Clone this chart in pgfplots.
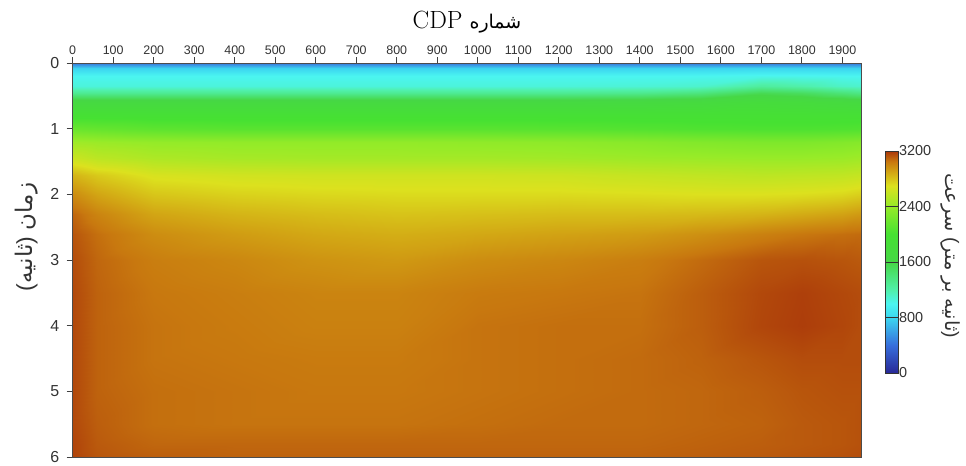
\documentclass[border=0pt]{standalone}
\usepackage{pgfplots}
\pgfplotsset{compat=1.18}
\usetikzlibrary{calc}
\usepackage{fontspec}
\newfontfamily\sansf{Liberation Sans}
\newfontfamily\arabicfont[Script=Arabic]{DejaVu Sans}
\TeXXeTstate=1
\pgfplotsset{colormap={vel}{rgb255(0pt)=(40,40,150); rgb255(400pt)=(55,110,220); rgb255(800pt)=(60,215,240); rgb255(1000pt)=(75,245,240); rgb255(1200pt)=(80,240,170); rgb255(1600pt)=(70,215,70); rgb255(2000pt)=(70,225,50); rgb255(2400pt)=(150,235,40); rgb255(2700pt)=(220,225,30); rgb255(2900pt)=(210,165,20); rgb255(3050pt)=(200,120,15); rgb255(3200pt)=(170,55,10)}}
\begin{document}
\begin{tikzpicture}
\begin{axis}[
  at={(72.7bp,2bp)}, anchor=south west,
  scale only axis, width=788.3bp, height=394bp,
  xmin=0, xmax=1946, ymin=0, ymax=6, y dir=reverse,
  axis on top,
  colormap name=vel, point meta min=0, point meta max=3200,
  xtick={0,100,...,1900}, ytick={0,1,...,6},
  xtick pos=upper, xticklabel pos=upper, ytick pos=lower,
  tick align=outside, major tick length=6bp,
  scaled x ticks=false, scaled y ticks=false,
  /pgf/number format/1000 sep={},
  /pgf/number format/assume math mode=true,
  xticklabel style={font=\sansf\fontsize{12.5}{12.5}\selectfont, text=black!80, yshift=-1bp},
  yticklabel style={font=\sansf\fontsize{16}{16}\selectfont, text=black!80, xshift=-4bp},
  axis line style={draw=black!70, line width=0.9bp},
  every tick/.style={draw=black!75, line width=0.9bp},
  colorbar,
  colorbar style={
    at={($(parent axis.north east)+(15.7bp,-88bp)$)}, anchor=north west,
    scale only axis, width=13.3bp, height=222bp,
    ytick={0,800,1600,2400,3200},
    scaled y ticks=false,
    /pgf/number format/1000 sep={},
    /pgf/number format/assume math mode=true,
    yticklabel pos=right,
    yticklabel style={font=\sansf\fontsize{14.5}{14.5}\selectfont, text=black!80, xshift=-3bp},
    tick align=inside, major tick length=13.3bp,
    axis line style={draw=black!80, line width=0.8bp},
    every tick/.style={draw=black!80, line width=0.8bp},
  },
]
\addplot[surf, shader=interp, mesh/cols=14, point meta=explicit] coordinates {
(0,0)[430] (60,0)[430] (200,0)[430] (400,0)[430] (600,0)[430] (800,0)[430] (1000,0)[430] (1200,0)[430] (1400,0)[430] (1550,0)[430] (1700,0)[430] (1800,0)[430] (1900,0)[430] (1946,0)[430]
(0,0.08)[780] (60,0.08)[780] (200,0.08)[780] (400,0.08)[780] (600,0.08)[780] (800,0.08)[780] (1000,0.08)[780] (1200,0.08)[780] (1400,0.08)[780] (1550,0.08)[780] (1700,0.08)[790] (1800,0.08)[785] (1900,0.08)[780] (1946,0.08)[780]
(0,0.2)[1000] (60,0.2)[1000] (200,0.2)[1000] (400,0.2)[1000] (600,0.2)[1000] (800,0.2)[1000] (1000,0.2)[1000] (1200,0.2)[1000] (1400,0.2)[1000] (1550,0.2)[1005] (1700,0.2)[1020] (1800,0.2)[1015] (1900,0.2)[1005] (1946,0.2)[1000]
(0,0.35)[1060] (60,0.35)[1060] (200,0.35)[1060] (400,0.35)[1060] (600,0.35)[1060] (800,0.35)[1060] (1000,0.35)[1060] (1200,0.35)[1065] (1400,0.35)[1075] (1550,0.35)[1100] (1700,0.35)[1250] (1800,0.35)[1200] (1900,0.35)[1120] (1946,0.35)[1100]
(0,0.45)[1300] (60,0.45)[1300] (200,0.45)[1300] (400,0.45)[1300] (600,0.45)[1300] (800,0.45)[1300] (1000,0.45)[1300] (1200,0.45)[1300] (1400,0.45)[1320] (1550,0.45)[1380] (1700,0.45)[1550] (1800,0.45)[1500] (1900,0.45)[1400] (1946,0.45)[1350]
(0,0.6)[1700] (60,0.6)[1700] (200,0.6)[1700] (400,0.6)[1700] (600,0.6)[1700] (800,0.6)[1700] (1000,0.6)[1700] (1200,0.6)[1700] (1400,0.6)[1710] (1550,0.6)[1740] (1700,0.6)[1800] (1800,0.6)[1780] (1900,0.6)[1740] (1946,0.6)[1720]
(0,0.8)[1970] (60,0.8)[1970] (200,0.8)[1960] (400,0.8)[1960] (600,0.8)[1960] (800,0.8)[1960] (1000,0.8)[1960] (1200,0.8)[1960] (1400,0.8)[1960] (1550,0.8)[1960] (1700,0.8)[1960] (1800,0.8)[1960] (1900,0.8)[1960] (1946,0.8)[1960]
(0,1.0)[2180] (60,1.0)[2160] (200,1.0)[2120] (400,1.0)[2100] (600,1.0)[2100] (800,1.0)[2100] (1000,1.0)[2100] (1200,1.0)[2090] (1400,1.0)[2070] (1550,1.0)[2050] (1700,1.0)[2040] (1800,1.0)[2040] (1900,1.0)[2050] (1946,1.0)[2060]
(0,1.2)[2440] (60,1.2)[2420] (200,1.2)[2390] (400,1.2)[2380] (600,1.2)[2380] (800,1.2)[2380] (1000,1.2)[2370] (1200,1.2)[2360] (1400,1.2)[2330] (1550,1.2)[2300] (1700,1.2)[2280] (1800,1.2)[2280] (1900,1.2)[2300] (1946,1.2)[2320]
(0,1.45)[2620] (60,1.45)[2560] (200,1.45)[2500] (400,1.45)[2470] (600,1.45)[2460] (800,1.45)[2460] (1000,1.45)[2460] (1200,1.45)[2450] (1400,1.45)[2430] (1550,1.45)[2420] (1700,1.45)[2410] (1800,1.45)[2410] (1900,1.45)[2420] (1946,1.45)[2440]
(0,1.7)[2850] (60,1.7)[2780] (200,1.7)[2680] (400,1.7)[2650] (600,1.7)[2640] (800,1.7)[2640] (1000,1.7)[2640] (1200,1.7)[2630] (1400,1.7)[2600] (1550,1.7)[2580] (1700,1.7)[2560] (1800,1.7)[2570] (1900,1.7)[2580] (1946,1.7)[2600]
(0,2.0)[2980] (60,2.0)[2900] (200,2.0)[2790] (400,2.0)[2750] (600,2.0)[2730] (800,2.0)[2720] (1000,2.0)[2720] (1200,2.0)[2720] (1400,2.0)[2710] (1550,2.0)[2700] (1700,2.0)[2700] (1800,2.0)[2710] (1900,2.0)[2730] (1946,2.0)[2760]
(0,2.3)[3090] (60,2.3)[3010] (200,2.3)[2900] (400,2.3)[2850] (600,2.3)[2820] (800,2.3)[2800] (1000,2.3)[2810] (1200,2.3)[2820] (1400,2.3)[2820] (1550,2.3)[2830] (1700,2.3)[2850] (1800,2.3)[2880] (1900,2.3)[2910] (1946,2.3)[2940]
(0,2.6)[3130] (60,2.6)[3070] (200,2.6)[2980] (400,2.6)[2930] (600,2.6)[2890] (800,2.6)[2870] (1000,2.6)[2890] (1200,2.6)[2910] (1400,2.6)[2930] (1550,2.6)[2970] (1700,2.6)[3020] (1800,2.6)[3050] (1900,2.6)[3070] (1946,2.6)[3080]
(0,3.0)[3150] (60,3.0)[3090] (200,3.0)[3030] (400,3.0)[3000] (600,3.0)[2960] (800,3.0)[2940] (1000,3.0)[2980] (1200,3.0)[3000] (1400,3.0)[3030] (1550,3.0)[3080] (1700,3.0)[3130] (1800,3.0)[3140] (1900,3.0)[3130] (1946,3.0)[3120]
(0,3.5)[3160] (60,3.5)[3100] (200,3.5)[3050] (400,3.5)[3030] (600,3.5)[3010] (800,3.5)[3010] (1000,3.5)[3040] (1200,3.5)[3050] (1400,3.5)[3060] (1550,3.5)[3110] (1700,3.5)[3160] (1800,3.5)[3180] (1900,3.5)[3160] (1946,3.5)[3150]
(0,4.0)[3160] (60,4.0)[3100] (200,4.0)[3060] (400,4.0)[3040] (600,4.0)[3020] (800,4.0)[3020] (1000,4.0)[3060] (1200,4.0)[3070] (1400,4.0)[3070] (1550,4.0)[3110] (1700,4.0)[3165] (1800,4.0)[3185] (1900,4.0)[3165] (1946,4.0)[3150]
(0,4.5)[3160] (60,4.5)[3100] (200,4.5)[3060] (400,4.5)[3050] (600,4.5)[3040] (800,4.5)[3040] (1000,4.5)[3060] (1200,4.5)[3070] (1400,4.5)[3080] (1550,4.5)[3100] (1700,4.5)[3130] (1800,4.5)[3150] (1900,4.5)[3150] (1946,4.5)[3150]
(0,5.0)[3160] (60,5.0)[3100] (200,5.0)[3070] (400,5.0)[3060] (600,5.0)[3050] (800,5.0)[3050] (1000,5.0)[3060] (1200,5.0)[3070] (1400,5.0)[3080] (1550,5.0)[3090] (1700,5.0)[3110] (1800,5.0)[3130] (1900,5.0)[3140] (1946,5.0)[3140]
(0,5.5)[3160] (60,5.5)[3110] (200,5.5)[3070] (400,5.5)[3060] (600,5.5)[3060] (800,5.5)[3060] (1000,5.5)[3070] (1200,5.5)[3080] (1400,5.5)[3080] (1550,5.5)[3090] (1700,5.5)[3100] (1800,5.5)[3120] (1900,5.5)[3130] (1946,5.5)[3140]
(0,5.8)[3170] (60,5.8)[3120] (200,5.8)[3090] (400,5.8)[3090] (600,5.8)[3090] (800,5.8)[3090] (1000,5.8)[3090] (1200,5.8)[3090] (1400,5.8)[3090] (1550,5.8)[3100] (1700,5.8)[3110] (1800,5.8)[3120] (1900,5.8)[3130] (1946,5.8)[3140]
(0,6.0)[3170] (60,6.0)[3130] (200,6.0)[3110] (400,6.0)[3100] (600,6.0)[3100] (800,6.0)[3100] (1000,6.0)[3100] (1200,6.0)[3100] (1400,6.0)[3100] (1550,6.0)[3110] (1700,6.0)[3120] (1800,6.0)[3130] (1900,6.0)[3140] (1946,6.0)[3150]
};
\end{axis}
\node at (467bp,437bp) {{\fontsize{25}{25}\selectfont CDP}\hspace{7bp}{\arabicfont\fontsize{19}{19}\selectfont\beginR شماره\endR}};
\node[rotate=90, text=black!80] at (27bp,222bp) {\fontsize{23}{23}\selectfont{\sansf(}{\arabicfont\beginR ثانیه\endR}{\sansf)} {\arabicfont\beginR زمان\endR}};
\node[rotate=-90, text=black!80] at (950bp,203bp) {\fontsize{19.5}{19.5}\selectfont{\arabicfont\beginR سرعت\endR} {\sansf(}{\arabicfont\beginR متر\endR} {\arabicfont\beginR بر\endR} {\arabicfont\beginR ثانیه\endR}{\sansf)}};
\path (0,0) rectangle (966bp,459bp);
\end{tikzpicture}
\end{document}
